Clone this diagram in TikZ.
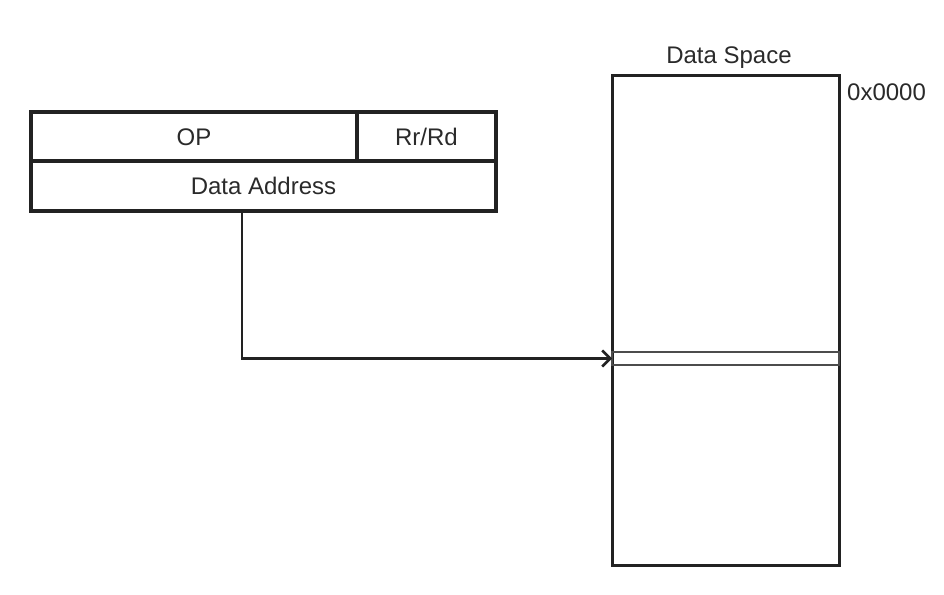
\documentclass[tikz,border=0pt]{standalone}
\usepackage{fontspec}
\setmainfont{Liberation Sans}
\usetikzlibrary{arrows.meta}
\definecolor{txt}{HTML}{2a2a2a}
\definecolor{edge}{HTML}{222222}
\begin{document}
\begin{tikzpicture}[x=1pt,y=-1pt,
  field/.style={draw=edge,line width=3.5pt,rectangle,inner sep=0pt,outer sep=0pt,font=\fontsize{24}{28}\selectfont,text=txt,text height=17pt,text depth=0pt},
  mem/.style={draw=edge,line width=3pt,rectangle,inner sep=0pt,outer sep=0pt},
  slotbox/.style={draw=black!70,line width=1.3pt,rectangle,inner sep=0pt,outer sep=0pt},
  lbl/.style={font=\fontsize{24}{28}\selectfont,text=txt,inner sep=0pt,text height=17pt,text depth=0pt},
  arr/.style={draw=edge,line width=2.5pt,-{Straight Barb[length=8pt,width=16pt,line width=2.5pt]}}]
\useasboundingbox (0,0) rectangle (944,594);
\node[field,minimum width=326pt,minimum height=49pt] (op) at (194,136.5) {OP};
\node[field,minimum width=139pt,minimum height=49pt] (rr) at (426.5,136.5) {Rr/Rd};
\node[field,minimum width=465pt,minimum height=50pt] (addr) at (263.5,186) {Data Address};
\node[mem,minimum width=227pt,minimum height=490pt] (ds) at (725.5,320) {};
\node[slotbox,minimum width=227pt,minimum height=13pt] (slot) at (725.5,358.5) {};
\node[lbl] (dsl) at (729,55) {Data Space};
\node[lbl,anchor=west] (zero) at (847,92) {0x0000};
\coordinate (s) at (242,211);
\draw[arr] (s) |- (slot.west);
\end{tikzpicture}
\end{document}
